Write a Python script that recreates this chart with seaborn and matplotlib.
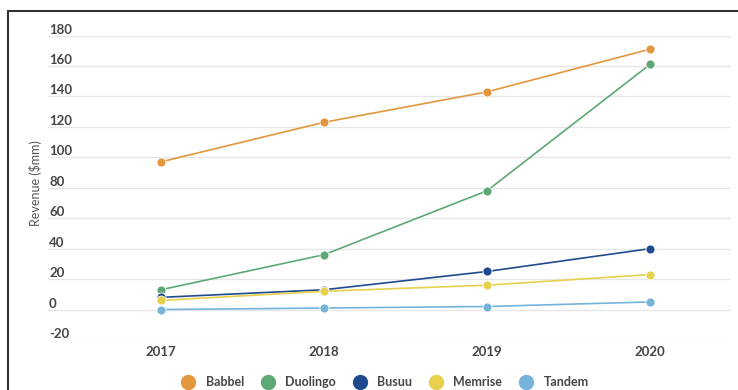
import matplotlib
matplotlib.use("Agg")
import matplotlib.pyplot as plt
from matplotlib.lines import Line2D
from matplotlib.patches import Rectangle
import seaborn as sns
import pandas as pd

years = [2017, 2018, 2019, 2020]
companies = ["Babbel", "Duolingo", "Busuu", "Memrise", "Tandem"]
babbel = [97, 123, 143, 171]
duolingo = [13, 36, 78, 161]
busuu = [8, 13, 25, 40]
memrise = [6, 12, 16, 23]
tandem = [0, 1, 2, 5]
yticks = [-20, 0, 20, 40, 60, 80, 100, 120, 140, 160, 180]
colors = ["#E3963C", "#5DA874", "#1F4A8E", "#E6D04C", "#76B3DA"]

series = [babbel, duolingo, busuu, memrise, tandem]
rows = []
for name, vals in zip(companies, series):
    for y, v in zip(years, vals):
        rows.append({"year": y, "revenue": v, "company": name})
df = pd.DataFrame(rows)

sns.set_theme(style="white")
plt.rcParams["font.family"] = ["Lato", "DejaVu Sans"]

W, H = 738, 390
fig = plt.figure(figsize=(W / 100, H / 100), dpi=100)
ax_l, ax_r, ax_t, ax_b = 48, 731, 35.5, 340
ax = fig.add_axes([ax_l / W, 1 - ax_b / H, (ax_r - ax_l) / W, (ax_b - ax_t) / H])

palette = dict(zip(companies, colors))
sns.lineplot(data=df, x="year", y="revenue", hue="company", hue_order=companies,
             palette=palette, marker="o", markersize=6.5, markeredgecolor="white",
             markeredgewidth=0.6, linewidth=1.2, legend=False, ax=ax, clip_on=False)

ax.set_ylim(-20, 180)
ax.set_xlim(2016.307, 2020.497)
ax.set_yticks(yticks)
ax.set_xticks(years)
ax.set_xticklabels([str(y) for y in years], fontsize=9.5, fontweight="bold", color="#454545")
ax.set_yticklabels([str(t) for t in yticks], fontsize=9.5, fontweight="bold", color="#454545")
ax.tick_params(axis="y", length=0, pad=-0.8)
ax.tick_params(axis="x", length=0, pad=4)
for lab in ax.get_yticklabels():
    lab.set_horizontalalignment("left")
    lab.set_verticalalignment("bottom")
ax.grid(axis="y", color="#e6e6e6", linewidth=1)
ax.set_axisbelow(True)
for s in ax.spines.values():
    s.set_visible(False)
ax.set_xlabel("")
ax.set_ylabel("")
fig.text(36 / W, 1 - 183 / H, "Revenue ($mm)", rotation=90, ha="center", va="center",
         fontsize=9, color="#555555")

handles = [Line2D([0], [0], marker="o", linestyle="none", markersize=10,
                  markerfacecolor=c, markeredgecolor=c) for c in colors]
fig.legend(handles, companies, loc="center", bbox_to_anchor=(382 / W, 1 - 382 / H),
           ncol=5, frameon=False, handletextpad=0.4, columnspacing=0.9,
           prop={"weight": "bold", "size": 9})
for t in fig.legends[0].get_texts():
    t.set_color("#454545")

fig.patches.append(Rectangle((8 / W, -0.2), 1.5, 1.2 - 10.5 / H,
                             transform=fig.transFigure, fill=False,
                             edgecolor="#333333", linewidth=1.5))
fig.savefig("out.png", dpi=100)
